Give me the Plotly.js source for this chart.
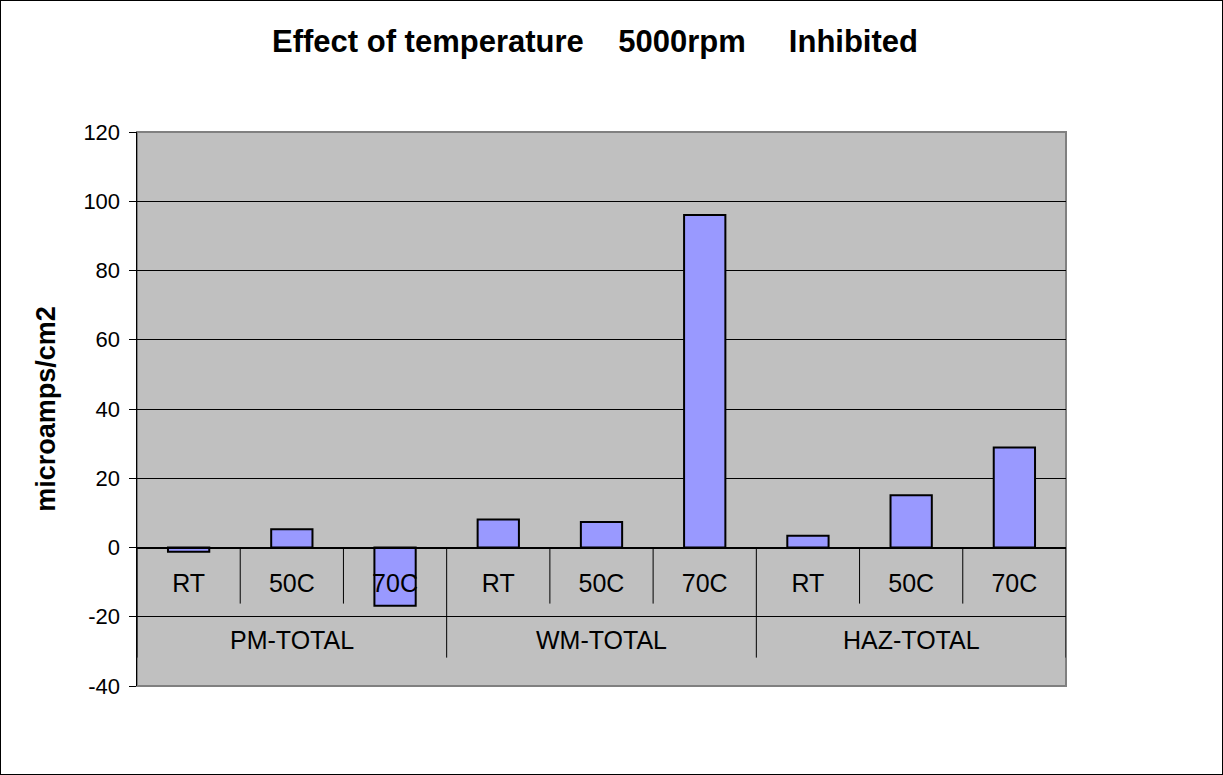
<!DOCTYPE html>
<html>
<head>
<meta charset="utf-8">
<script src="https://cdn.plot.ly/plotly-3.0.1.min.js"></script>
<style>
  html, body { margin: 0; padding: 0; background: #fff; }
  #wrap { position: relative; width: 1223px; height: 775px; }
  #chart { width: 1223px; height: 775px; }
  #frame { position: absolute; left: 0; top: 0; width: 1221px; height: 773px;
           border: 1px solid #000; pointer-events: none; }
</style>
</head>
<body>
<div id="wrap">
  <div id="chart"></div>
  <div id="frame"></div>
</div>
<script>
// Measured current density per zone and test temperature
const groups = ['PM-TOTAL', 'WM-TOTAL', 'HAZ-TOTAL'];
const temps = ['RT', '50C', '70C'];
const pmTotal = [-1.2, 5.3, -16.8];
const wmTotal = [8.1, 7.4, 96];
const hazTotal = [3.4, 15.1, 28.9];
const yTicks = [-40, -20, 0, 20, 40, 60, 80, 100, 120];
const yTickText = ['-40', '-20', '0', '20', '40', '60', '80', '100', '120'];

const seriesByGroup = [pmTotal, wmTotal, hazTotal];

// One category per zone/temperature pair, labelled with the temperature only
const keys = [], vals = [], tickText = [];
groups.forEach((g, gi) => {
  temps.forEach((t, ti) => {
    keys.push(g + ' ' + t);
    vals.push(seriesByGroup[gi][ti]);
    tickText.push(t);
  });
});

const FONT = 'Liberation Sans, Arial, Helvetica, sans-serif';

// Divider lines under the axis: short ones between temperatures,
// long ones between zones (and at both ends)
const innerDepth = -16.2;
const groupDepth = -31.8;
const shapes = [];
for (let i = 0; i <= keys.length; i++) {
  const isGroupEdge = (i % temps.length === 0);
  shapes.push({
    type: 'line', xref: 'x', yref: 'y',
    x0: i - 0.5, x1: i - 0.5,
    y0: 0, y1: isGroupEdge ? groupDepth : innerDepth,
    line: { color: '#000', width: 1 }
  });
}
// Plot frame
shapes.push({
  type: 'rect', xref: 'paper', yref: 'paper', x0: 0, x1: 1, y0: 0, y1: 1,
  line: { color: '#808080', width: 2 }, layer: 'below'
});

// Zone names centred under each group of three
const annotations = groups.map((g, gi) => ({
  xref: 'x', yref: 'y',
  x: keys[gi * temps.length + 1], y: -26.6,
  text: g, showarrow: false,
  xanchor: 'center', yanchor: 'middle',
  font: { family: FONT, size: 25, color: '#000' }
}));

const trace = {
  type: 'bar',
  x: keys,
  y: vals,
  marker: { color: '#9999FF', line: { color: '#000', width: 2 } },
  hoverinfo: 'x+y'
};

const layout = {
  width: 1223, height: 775,
  margin: { l: 137, r: 157, t: 132, b: 89 },
  paper_bgcolor: '#fff',
  plot_bgcolor: '#C0C0C0',
  showlegend: false,
  bargap: 0.6,
  title: {
    text: 'Effect of temperature\u00A0\u00A0\u00A0\u00A05000rpm\u00A0\u00A0\u00A0\u00A0\u00A0Inhibited',
    font: { family: FONT, size: 31, color: '#000', weight: 'bold' },
    x: 595 / 1223, xanchor: 'center', xref: 'container',
    y: 1 - 41 / 775, yanchor: 'middle', yref: 'container'
  },
  xaxis: {
    type: 'category',
    anchor: 'free', position: 0.25,
    range: [-0.5, keys.length - 0.5],
    tickmode: 'array', tickvals: keys, ticktext: tickText,
    ticks: '', showgrid: false, zeroline: false,
    showline: true, linecolor: '#000', linewidth: 1,
    tickfont: { family: FONT, size: 25, color: '#000' },
    ticklabelstandoff: 13,
    fixedrange: true
  },
  yaxis: {
    range: [-40, 120],
    tickmode: 'array', tickvals: yTicks, ticktext: yTickText,
    ticks: 'outside', ticklen: 7, tickcolor: '#000', tickwidth: 1,
    showline: true, linecolor: '#000', linewidth: 1.5,
    showgrid: true, gridcolor: '#000', gridwidth: 1,
    zeroline: true, zerolinecolor: '#000', zerolinewidth: 1,
    tickfont: { family: FONT, size: 22, color: '#000' },
    ticklabelstandoff: 4,
    title: {
      text: 'microamps/cm2',
      font: { family: FONT, size: 27, color: '#000', weight: 'bold' },
      standoff: 20
    },
    automargin: false,
    fixedrange: true
  },
  shapes: shapes,
  annotations: annotations
};

Plotly.newPlot('chart', [trace], layout, { displayModeBar: false, staticPlot: true });
</script>
</body>
</html>
